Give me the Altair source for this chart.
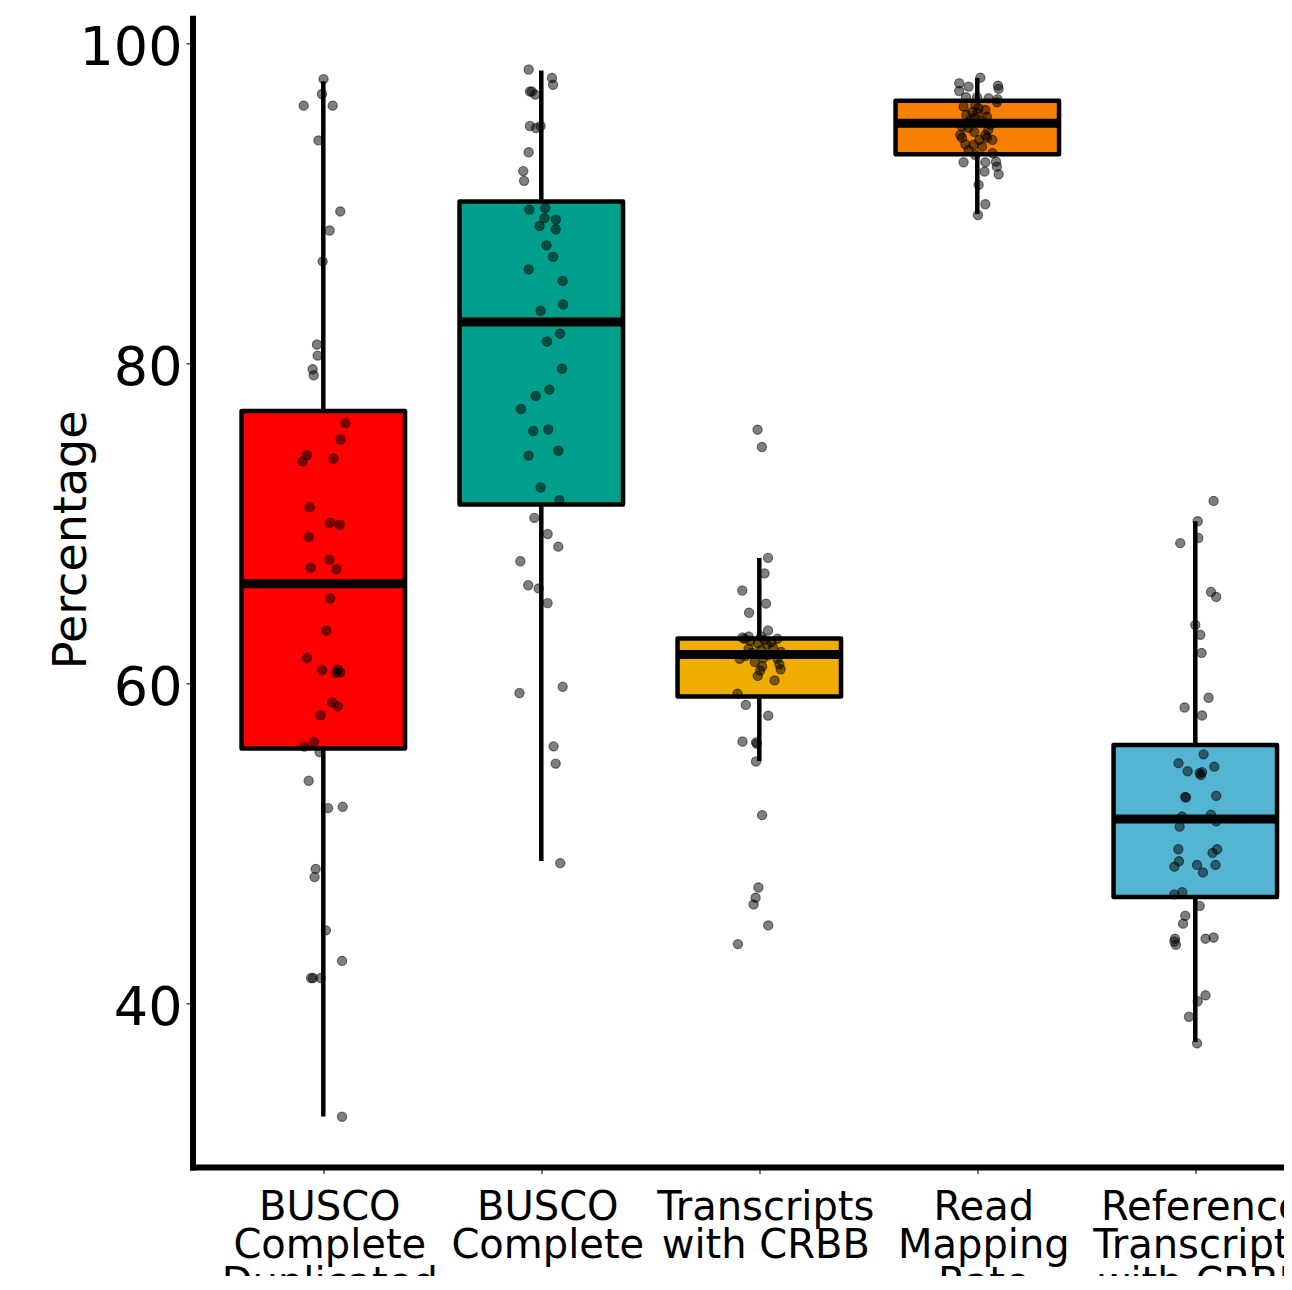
import json
import altair as alt
import pandas as pd

# ---------------- data ----------------
CATEGORIES = ["BUSCO Complete Duplicated", "BUSCO Complete", "Transcripts with CRBB",
              "Read Mapping Rate", "Reference Transcripts with CRBB"]
LABEL_LINES = [["BUSCO", "Complete", "Duplicated"], ["BUSCO", "Complete"],
               ["Transcripts", "with CRBB"], ["Read", "Mapping", "Rate"],
               ["Reference", "Transcripts", "with CRBB"]]
COLORS = ["#FF0000", "#009F8B", "#EEAD00", "#F88000", "#54B5D3"]

red_vals = [97.74, 96.81, 96.08, 96.08, 93.91, 89.47, 88.28, 86.35, 81.15, 80.46,
            79.61, 79.23, 76.24, 75.22, 74.24, 73.85, 74.03, 70.99, 70.01, 69.89,
            69.12, 67.71, 67.20, 67.11, 65.28, 63.27, 61.56, 60.80, 60.84, 60.63,
            60.67, 58.79, 58.54, 57.98, 56.32, 56.02, 55.68, 53.89, 52.18, 52.26,
            48.38, 47.87, 44.54, 42.63, 41.56, 41.56, 41.56, 32.89]
red_jit = [0.001, -0.006, -0.090, 0.043, -0.022, 0.078, 0.029, -0.003, -0.029, -0.026,
           -0.049, -0.044, 0.101, 0.079, -0.075, -0.095, 0.047, -0.063, 0.032, 0.075,
           -0.067, 0.029, -0.058, 0.060, 0.032, 0.014, -0.075, -0.005, 0.067, 0.058,
           0.078, 0.041, 0.067, -0.012, -0.043, -0.087, -0.017, -0.067, 0.022, 0.089,
           -0.035, -0.040, 0.012, 0.086, -0.056, -0.047, -0.012, 0.086]

teal_vals = [98.34, 97.81, 97.39, 96.96, 96.96, 96.77, 94.81, 94.68, 94.81, 93.17,
             91.99, 91.38, 89.58, 89.68, 89.05, 88.96, 88.56, 88.36, 87.35, 86.63,
             85.85, 85.13, 83.66, 83.26, 81.83, 81.34, 79.64, 78.33, 77.94, 77.12,
             75.75, 75.84, 74.51, 74.21, 72.22, 71.43, 70.32, 69.31, 68.52, 67.61,
             66.11, 65.91, 64.99, 59.37, 59.76, 56.04, 54.96, 48.74]
teal_jit = [-0.058, 0.049, 0.054, -0.052, -0.043, -0.028, -0.052, -0.024, -0.003, -0.058,
            -0.083, -0.079, -0.055, 0.018, 0.015, 0.067, -0.008, 0.066, 0.024, 0.054,
            -0.058, 0.098, 0.100, -0.003, 0.086, 0.026, 0.095, 0.037, -0.026, -0.093,
            -0.037, 0.032, 0.078, -0.058, -0.003, 0.083, -0.032, 0.029, 0.078, -0.096,
            -0.060, -0.012, 0.029, -0.100, 0.098, 0.056, 0.066, 0.087]

yellow_vals = [75.83, 74.75, 67.82, 66.85, 65.78, 64.96, 64.39, 63.28,
               62.84, 62.90, 62.76, 62.90, 62.76, 62.48, 62.40, 62.14, 62.20, 62.06,
               61.51, 61.31, 61.51, 61.17, 61.03, 60.78, 60.86, 60.44, 60.16,
               61.88, 61.75, 62.69, 62.56, 62.63, 61.94, 61.69, 61.56,
               59.33, 58.63, 57.96, 56.34, 56.29, 56.20, 55.09, 51.74, 47.22, 46.58,
               46.16, 44.85, 43.68]
yellow_jit = [-0.008, 0.012, 0.040, 0.024, -0.078, 0.031, -0.047, 0.040,
              -0.077, -0.049, -0.067, 0.008, 0.083, -0.007, 0.036, -0.049, 0.064, 0.008,
              -0.090, -0.021, 0.083, 0.092, 0.013, 0.004, 0.098, -0.007, 0.070,
              -0.032, 0.041, 0.023, 0.055, -0.041, 0.100, -0.064, 0.018,
              -0.100, -0.062, 0.041, -0.077, -0.015, -0.011, -0.015, 0.013, -0.004, -0.017,
              -0.026, 0.041, -0.098]

orange_vals = [97.83, 97.48, 97.27, 97.00, 97.33, 97.13, 96.61, 96.61, 96.54, 96.48,
               96.02, 96.13, 95.92, 96.29, 95.61, 95.39, 94.77, 94.25, 94.25, 94.08,
               94.08, 93.67, 93.63, 93.52, 93.31, 93.11, 93.00, 92.54, 92.54, 92.58,
               91.96, 92.27, 91.79, 91.13, 89.92, 89.25,
               95.19, 95.13, 94.88, 94.69, 95.31, 95.81, 95.69, 93.94, 93.94, 95.50,
               94.56, 94.44]
orange_jit = [0.014, -0.083, -0.040, -0.083, 0.095, 0.098, -0.052, -0.001, 0.052, 0.093,
              -0.063, -0.009, 0.006, 0.090, -0.001, 0.044, -0.070, -0.078, 0.037, 0.044,
              -0.070, -0.055, -0.017, 0.022, -0.040, 0.070, -0.009, -0.063, 0.037, 0.086,
              0.033, 0.090, 0.098, 0.006, 0.037, 0.003,
              -0.032, 0.023, 0.060, -0.041, -0.009, 0.037, -0.023, 0.069, 0.009, -0.050,
              0.050, -0.014]

blue_vals = [71.38, 70.11, 69.06, 68.74, 65.69, 65.38, 63.63, 63.01, 61.88, 59.08,
             58.47, 57.97, 55.54, 54.99, 54.48, 54.77, 54.36, 54.24, 54.43, 52.88,
             52.84, 52.95, 51.66, 51.77, 51.36, 51.02, 49.61, 49.61, 48.86, 48.52,
             49.38, 48.63, 48.16, 48.63, 46.79, 46.93, 46.07, 45.45, 44.96, 44.02,
             43.64, 43.84, 44.02, 44.09, 40.48, 40.11, 39.14, 37.48]
blue_jit = [0.084, 0.011, 0.014, -0.069, 0.072, 0.096, 0.000, 0.023, 0.029, 0.061,
            -0.049, 0.031, 0.038, -0.077, -0.035, 0.087, 0.020, 0.026, 0.031, -0.046,
            -0.043, 0.096, -0.061, 0.072, 0.096, -0.072, -0.078, 0.100, -0.075, -0.096,
            0.079, 0.008, 0.035, 0.093, -0.096, -0.060, 0.020, -0.046, -0.056, -0.093,
            -0.089, -0.096, 0.047, 0.084, 0.047, 0.011, -0.029, 0.008]

# box statistics
BOX_Q3 = [77.00, 90.09, 62.78, 96.38, 56.13]
BOX_MED = [66.20, 82.56, 61.78, 94.98, 51.50]
BOX_Q1 = [55.90, 71.16, 59.16, 93.04, 46.63]
WHISK_HI = [97.60, 98.28, 67.81, 97.81, 70.11]
WHISK_LO = [32.90, 48.88, 55.13, 89.31, 37.56]

BOX_HALF = 0.375
Y_DOMAIN = [29.75, 101.54]
X_DOMAIN = [0.4, 5.4069]

# ---------------- tables ----------------
groups = [(red_vals, red_jit), (teal_vals, teal_jit), (yellow_vals, yellow_jit),
          (orange_vals, orange_jit), (blue_vals, blue_jit)]
rows = []
for i, (vals, jit) in enumerate(groups):
    for v, j in zip(vals, jit):
        rows.append({"cat": CATEGORIES[i], "pos": i + 1 + j, "value": v})
pts = pd.DataFrame(rows)

box = pd.DataFrame({
    "cat": CATEGORIES,
    "pos": [i + 1 for i in range(len(CATEGORIES))],
    "left": [i + 1 - BOX_HALF for i in range(len(CATEGORIES))],
    "right": [i + 1 + BOX_HALF for i in range(len(CATEGORIES))],
    "q1": BOX_Q1, "med": BOX_MED, "q3": BOX_Q3, "lo": WHISK_LO, "hi": WHISK_HI,
    "color": COLORS,
})

label_expr = json.dumps(LABEL_LINES) + "[round(datum.value) - 1]"

x_scale = alt.Scale(domain=X_DOMAIN, nice=False, zero=False)
y_scale = alt.Scale(domain=Y_DOMAIN, nice=False, zero=False)

x_axis = alt.Axis(values=[1, 2, 3, 4, 5], labelExpr=label_expr, title=None,
                  grid=False, labelFontSize=40, labelLineHeight=38, labelLimit=0,
                  labelAlign="center", labelBaseline="top", labelPadding=14,
                  labelOffset=6, labelFlush=False, labelOverlap=False,
                  labelBound=False)
y_axis = alt.Axis(values=[40, 60, 80, 100], title="Percentage", grid=False,
                  labelFontSize=54, labelPadding=4, labelBaseline="middle",
                  labelOffset=6, labelLimit=0, titleFontSize=46,
                  titleFontWeight="normal", titleAngle=-90, titleAlign="center",
                  titleBaseline="alphabetic", titleX=-107, titleY=521)

base_box = alt.Chart(box)

whiskers = base_box.mark_rule(color="black", strokeWidth=4.5).encode(
    x=alt.X("pos:Q", scale=x_scale, axis=x_axis),
    y=alt.Y("lo:Q", scale=y_scale, axis=y_axis),
    y2="hi:Q",
)

boxes = base_box.mark_rect(stroke="black", strokeWidth=4.5, strokeJoin="round").encode(
    x="left:Q", x2="right:Q", y="q3:Q", y2="q1:Q",
    fill=alt.Fill("color:N", scale=None, legend=None),
)

medians = base_box.mark_rule(color="black", strokeWidth=9, strokeCap="butt").encode(
    x="left:Q", x2="right:Q", y="med:Q",
)

points = alt.Chart(pts).mark_circle(
    size=85, color="black", opacity=1, fillOpacity=0.5,
    stroke="black", strokeOpacity=0.5, strokeWidth=1.2,
).encode(x="pos:Q", y="value:Q")

chart = alt.layer(whiskers, boxes, medians, points).properties(
    width=1091.5, height=1148.7,
    autosize=alt.AutoSizeParams(type="none"),
    padding={"left": 184.5, "top": 10.3, "right": 0, "bottom": 109},
).configure_view(stroke=None).configure_axis(
    domainColor="black", domainWidth=6, domainCap="square",
    tickColor="#333333", tickWidth=1.3, tickSize=6.5,
    labelFont="DejaVu Sans", titleFont="DejaVu Sans",
    labelColor="black", titleColor="black",
)

chart.save("out.html", embed_options={"renderer": "svg", "actions": False})
